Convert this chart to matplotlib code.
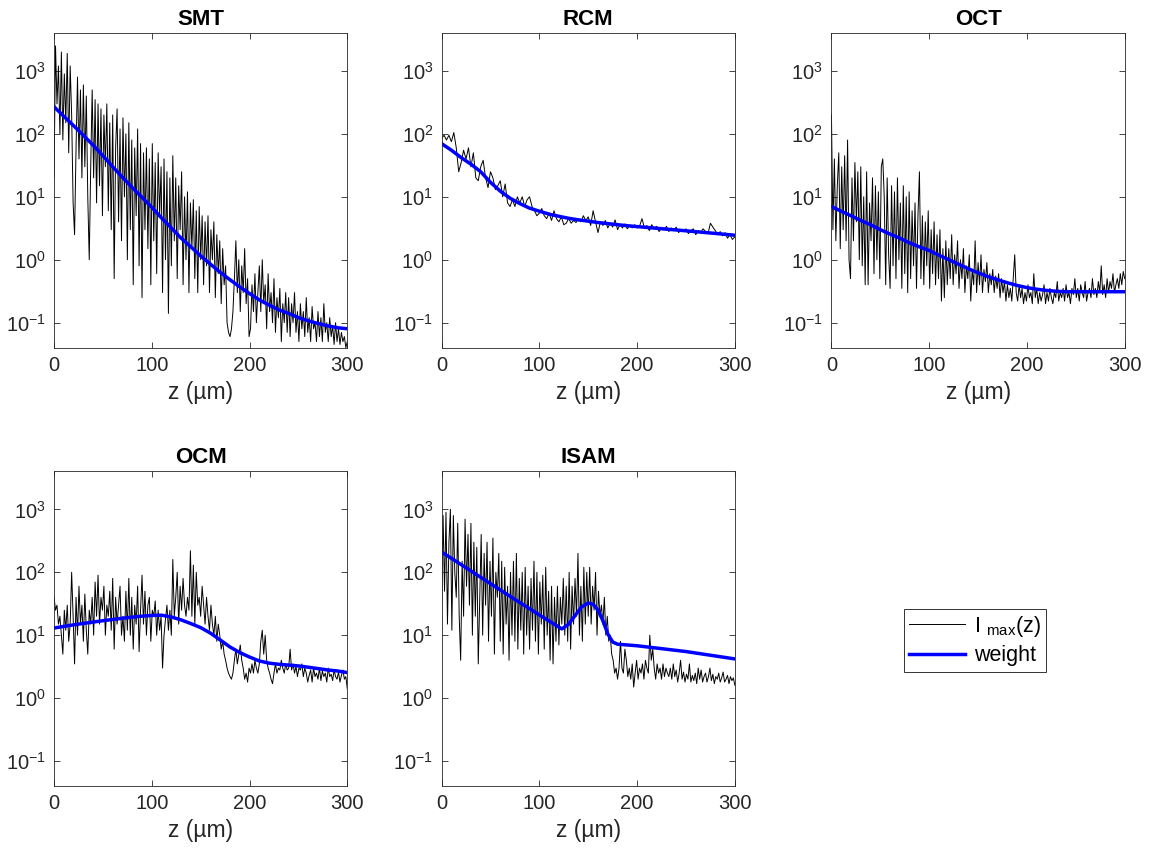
import numpy as np
import matplotlib
matplotlib.use("Agg")
import matplotlib.pyplot as plt
from matplotlib.lines import Line2D

plt.rcParams["font.family"] = ["Liberation Sans", "DejaVu Sans"]
plt.rcParams["mathtext.fontset"] = "custom"
plt.rcParams["mathtext.rm"] = "Liberation Sans"
plt.rcParams["mathtext.it"] = "Liberation Sans:italic"
plt.rcParams["mathtext.bf"] = "Liberation Sans:bold"

# depth grids of the measured profiles (um)
Z = np.linspace(0, 300, 201)      # 1.5 um steps
Z_RCM = np.linspace(0, 300, 121)  # 2.5 um steps

SMT_IMAX = [20, 2500, 300, 1200, 100, 2000, 80, 900, 150, 1900, 50, 1200, 200, 8, 2.5, 60, 800, 40, 500, 20,
            600, 30, 400, 10, 1, 30, 500, 20, 350, 8, 300, 15, 250, 5, 200, 30, 300, 6, 150, 3,
            200, 0.5, 60, 250, 4, 120, 2, 180, 10, 100, 1, 150, 3, 80, 0.4, 60, 5, 120, 0.8, 70,
            0.25, 50, 3, 60, 1.5, 40, 0.4, 70, 2, 35, 0.6, 50, 5, 30, 0.3, 40, 1, 25, 0.14, 20,
            0.8, 45, 2, 20, 0.5, 15, 3, 25, 0.4, 10, 1, 12, 0.3, 8, 1.5, 9, 0.5, 6, 0.3, 7,
            1, 5, 0.4, 4, 0.8, 5, 0.3, 3, 1, 4, 0.25, 2.5, 0.6, 2, 0.2, 1.5, 0.4, 0.8, 0.1, 0.07,
            0.06, 0.08, 0.15, 0.5, 2, 0.3, 1, 0.15, 0.8, 0.3, 1.5, 0.2, 0.5, 0.06, 0.08, 0.4, 0.15, 0.6, 0.1, 0.3,
            0.8, 0.15, 1, 0.2, 0.4, 0.08, 0.6, 0.15, 0.3, 0.1, 0.5, 0.07, 0.25, 0.12, 0.35, 0.05, 0.2, 0.1, 0.3, 0.07,
            0.25, 0.06, 0.2, 0.1, 0.3, 0.07, 0.15, 0.05, 0.2, 0.08, 0.15, 0.06, 0.25, 0.07, 0.12, 0.05, 0.18, 0.08, 0.1, 0.05,
            0.15, 0.06, 0.12, 0.05, 0.2, 0.07, 0.1, 0.05, 0.12, 0.06, 0.09, 0.045, 0.1, 0.05, 0.08, 0.045, 0.07, 0.05, 0.06, 0.04,
            0.05]

RCM_IMAX = [85, 95, 80, 95, 75, 105, 60, 25, 35, 55, 40, 60, 30, 50, 20, 18,
            30, 38, 20, 14, 25, 20, 13, 15, 18, 10, 16, 8, 7, 9, 7, 10,
            8, 10, 7, 9, 10, 7, 6, 5, 5.5, 6.5, 5, 4.5, 5.5, 4.2, 6, 4.5,
            4, 4.8, 3.6, 3.8, 4.5, 3.8, 4.2, 3.9, 4.5, 4, 5, 4.2, 4.8, 3.5,
            6, 4, 2.7, 4, 3.5, 4.2, 3.2, 3.8, 3.3, 4.3, 3, 3.6, 3.2, 3.7,
            3.1, 3.5, 3.2, 3.6, 3.2, 3.4, 4.5, 3.2, 3.5, 2.9, 3.6, 3.1, 3.4, 2.8,
            3.2, 3, 3.4, 2.8, 3.2, 2.9, 3.3, 2.7, 3, 2.8, 3.1, 2.6, 2.9, 3.1,
            2.5, 2.9, 2.7, 3.1, 2.8, 2.6, 3.8, 3.3, 2.9, 2.5, 2.8, 2.4, 2.7, 2.2,
            2.5, 2.1, 2.3]

OCT_IMAX = [200, 3, 40, 2, 15, 50, 1.5, 30, 3, 45, 2, 80, 1, 0.5, 20, 2, 35, 4, 25, 1,
            30, 0.8, 10, 0.4, 25, 0.4, 8, 2, 20, 0.6, 15, 1, 12, 0.5, 30, 40, 10, 0.4, 20, 1.2,
            0.35, 15, 0.8, 12, 0.5, 20, 1, 8, 0.35, 15, 0.6, 10, 0.3, 12, 0.5, 6, 0.8, 8, 0.35, 5,
            25, 0.5, 5, 0.4, 4, 0.8, 6, 0.35, 3, 0.6, 4, 0.4, 2.5, 0.5, 3, 0.22, 1.5, 0.25, 2, 0.4,
            1.5, 0.5, 2.5, 0.4, 1.2, 0.6, 2, 0.35, 1, 0.5, 1.5, 0.3, 0.8, 0.5, 1.2, 0.22, 0.7, 0.4, 2, 0.3,
            0.9, 0.4, 1.2, 0.3, 0.7, 0.45, 0.9, 0.3, 0.6, 0.4, 0.7, 0.3, 0.55, 0.35, 0.6, 0.25, 0.5, 0.3, 0.45, 0.22,
            0.4, 0.25, 0.35, 0.22, 0.5, 1.2, 0.3, 0.22, 0.4, 0.25, 0.35, 0.2, 0.3, 0.22, 0.4, 0.25, 0.3, 0.2, 0.6, 0.25,
            0.35, 0.2, 0.3, 0.22, 0.28, 0.4, 0.2, 0.3, 0.22, 0.35, 0.25, 0.2, 0.3, 0.25, 0.45, 0.22, 0.3, 0.25, 0.35, 0.22,
            0.4, 0.25, 0.3, 0.2, 0.35, 0.28, 0.5, 0.25, 0.35, 0.22, 0.4, 0.3, 0.25, 0.45, 0.22, 0.3, 0.35, 0.25, 0.5, 0.28,
            0.35, 0.25, 0.45, 0.3, 0.8, 0.28, 0.4, 0.25, 0.5, 0.3, 0.45, 0.35, 0.6, 0.3, 0.4, 0.5, 0.35, 0.6, 0.4, 0.65,
            0.5]

OCM_IMAX = [40, 25, 30, 15, 20, 10, 5, 25, 12, 30, 8, 15, 100, 20, 3.5, 40, 10, 60, 15, 30,
            8, 45, 12, 5, 25, 15, 40, 10, 70, 20, 90, 15, 40, 25, 60, 10, 30, 20, 50, 12,
            80, 6, 40, 15, 30, 60, 10, 20, 8, 50, 12, 80, 10, 40, 6, 30, 15, 60, 5.5, 25,
            90, 15, 50, 10, 30, 40, 8, 25, 20, 35, 10, 25, 12, 20, 3, 10, 18, 30, 12, 25,
            10, 160, 20, 40, 100, 15, 60, 25, 80, 30, 20, 40, 25, 220, 20, 130, 15, 100, 30, 40,
            20, 60, 30, 15, 40, 20, 12, 30, 15, 10, 20, 8, 15, 10, 6, 8, 5, 4, 3, 2.5,
            2.2, 2, 2.5, 4, 6, 3.5, 5, 7, 4, 3, 2, 2.5, 1.8, 3, 2.5, 3.5, 2.5, 4, 3, 2.5,
            3.5, 8, 12, 5, 10, 4, 3, 2.5, 2, 1.7, 2.5, 3.5, 2.5, 3, 2.8, 4, 3, 2.5, 3.5, 2.8,
            3, 6, 2.8, 3.5, 2.5, 3.2, 2.2, 3, 2.8, 3.5, 2.2, 3, 2.5, 1.8, 2.3, 2.8, 1.8, 3, 2.2, 2.5,
            2, 3, 1.9, 2.7, 2.2, 2.5, 1.8, 3, 2.2, 2.4, 1.9, 2.8, 2.2, 2, 2.6, 1.8, 2.3, 2.8, 2, 2.2,
            1.4]

ISAM_IMAX = [30, 800, 50, 900, 15, 300, 1000, 12, 800, 100, 40, 600, 20, 4, 150, 20, 700, 60, 400, 30,
             600, 10, 300, 20, 250, 3.5, 40, 400, 10, 200, 30, 300, 8, 150, 20, 350, 5, 100, 40, 200,
             8, 150, 5, 120, 15, 60, 4, 100, 10, 150, 8, 200, 6, 80, 12, 100, 5, 120, 10, 60,
             6, 80, 12, 150, 8, 100, 5, 70, 15, 90, 6, 120, 10, 50, 4, 60, 3.5, 40, 8, 60,
             7, 40, 15, 80, 10, 60, 8, 100, 6, 60, 15, 80, 20, 200, 10, 60, 8, 120, 15, 100,
             20, 120, 15, 60, 25, 100, 10, 50, 20, 30, 15, 40, 10, 20, 8, 10, 5, 4, 2.5, 3,
             2, 3, 8, 3, 2.5, 6, 4, 2.2, 3, 2, 3.5, 1.5, 2.5, 4, 2, 3, 2.5, 3.5, 2, 4,
             3, 2.5, 10, 4, 6, 3, 2, 3.5, 2.5, 3, 2, 3.5, 2.2, 3, 2.5, 2.2, 3, 2, 3.5, 2.2,
             2.8, 1.8, 2.5, 4, 2, 2.6, 1.8, 2.4, 2, 3.5, 1.8, 2.3, 1.9, 2.5, 1.7, 3, 2, 2.8, 1.8, 2.2,
             2.5, 1.8, 2.2, 3, 1.9, 2.4, 1.7, 2.2, 2, 2.5, 1.8, 2.1, 2.6, 1.8, 2, 2.3, 1.7, 2.2, 1.9, 2.1,
             1.6]

# fitted weight curves
ZW = [0, 10, 20, 30, 40, 50, 60, 70, 80, 90, 100, 110, 120, 130, 140, 150,
      160, 170, 180, 190, 200, 210, 220, 230, 240, 250, 260, 270, 280, 290, 300]
SMT_W = [270, 190, 135, 95, 66, 45, 30, 20.5, 14, 9.8, 6.8, 4.6, 3.2, 2.2, 1.6, 1.15,
         0.85, 0.63, 0.48, 0.37, 0.29, 0.23, 0.19, 0.16, 0.14, 0.12, 0.107, 0.097, 0.089, 0.083, 0.08]
RCM_W = [70, 55, 42, 33, 25, 17, 12.3, 9.5, 7.8, 6.6, 5.9, 5.3, 4.9, 4.55, 4.3, 4.1,
         3.9, 3.75, 3.6, 3.47, 3.36, 3.26, 3.16, 3.06, 2.97, 2.88, 2.79, 2.7, 2.62, 2.53, 2.45]
OCT_W = [7.0, 5.9, 5.0, 4.2, 3.6, 3.0, 2.55, 2.2, 1.85, 1.6, 1.4, 1.18, 1.0, 0.85, 0.72, 0.62,
         0.54, 0.48, 0.43, 0.39, 0.36, 0.34, 0.325, 0.315, 0.31, 0.31, 0.31, 0.31, 0.31, 0.31, 0.31]
OCM_W = [13, 13.8, 14.6, 15.4, 16.2, 17, 17.8, 18.6, 19.4, 20.1, 20.6, 20.8, 19.5, 17.5, 15.3, 13.2,
         10.8, 8.4, 6.5, 5.3, 4.5, 3.9, 3.6, 3.45, 3.35, 3.25, 3.1, 2.95, 2.8, 2.7, 2.55]
ISAM_ZW = [0, 25, 50, 75, 100, 123, 130, 137, 143, 150, 155, 160, 165, 170, 175, 180, 200, 250, 300]
ISAM_W = [210, 118, 66, 37, 21, 12.6, 15, 21, 28, 32.5, 31, 25, 17, 10.5, 7.8, 7.2, 6.8, 5.5, 4.2]

PANELS = [
    ("SMT", Z, SMT_IMAX, ZW, SMT_W),
    ("RCM", Z_RCM, RCM_IMAX, ZW, RCM_W),
    ("OCT", Z, OCT_IMAX, ZW, OCT_W),
    ("OCM", Z, OCM_IMAX, ZW, OCM_W),
    ("ISAM", Z, ISAM_IMAX, ISAM_ZW, ISAM_W),
]

# axes boxes in figure fractions [left, bottom, width, height]
POSITIONS = [
    [0.047, 0.590, 0.255, 0.371],
    [0.384, 0.590, 0.255, 0.371],
    [0.723, 0.590, 0.255, 0.371],
    [0.047, 0.073, 0.255, 0.371],
    [0.384, 0.073, 0.255, 0.371],
]

FS = 14.5
EDGE = "#262626"

fig = plt.figure(figsize=(11.5, 8.48), dpi=100)

for (name, z, imax, zw, w), pos in zip(PANELS, POSITIONS):
    ax = fig.add_axes(pos)
    ax.plot(z, imax, color="black", lw=0.7)
    ax.plot(zw, w, color="blue", lw=2.5)
    ax.set_yscale("log")
    ax.set_xlim(0, 300)
    ax.set_ylim(0.04, 4000)
    ax.set_xticks([0, 100, 200, 300])
    ax.set_yticks([0.1, 1, 10, 100, 1000])
    ax.yaxis.set_minor_locator(matplotlib.ticker.NullLocator())
    ax.tick_params(direction="in", top=True, right=True, length=4, width=0.6,
                   color=EDGE, labelsize=FS, labelcolor="#262626", pad=6)
    for s in ax.spines.values():
        s.set_color(EDGE)
        s.set_linewidth(0.6)
    ax.set_title(name, fontsize=16, fontweight="bold", pad=6)
    ax.set_xlabel("z (µm)", fontsize=16.5, color="#262626", labelpad=4)

handles = [Line2D([], [], color="black", lw=0.7),
           Line2D([], [], color="blue", lw=2.5)]
leg = fig.legend(handles, [r"I $_{\mathregular{max}}$(z)", "weight"],
                 loc="center", bbox_to_anchor=(0.848, 0.245), fontsize=15.5,
                 frameon=True, fancybox=False, edgecolor="black",
                 handlelength=2.6, handletextpad=0.4, borderpad=0.25, labelspacing=0.3)
leg.get_frame().set_linewidth(0.7)

fig.savefig("out.png", dpi=100)
